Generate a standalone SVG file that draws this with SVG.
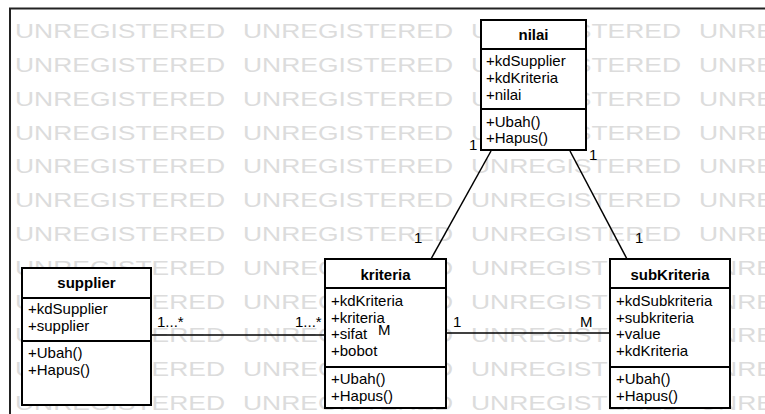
<svg xmlns="http://www.w3.org/2000/svg" width="765" height="414" viewBox="0 0 765 414">
<style>
.wm{font-family:"Liberation Sans",Arial,sans-serif;font-size:19.5px;fill:#dcdcdc}
.box{fill:#fff;stroke:#000;stroke-width:2}
.sep{stroke:#000;stroke-width:2}
.t{font-family:"Liberation Sans",Arial,sans-serif;font-size:15px;fill:#000}
.b{font-weight:bold;text-anchor:middle}
.ln{stroke:#000;stroke-width:1.5;fill:none}
</style>
<rect x="0" y="0" width="765" height="414" fill="#fff"/>
<g id="watermark">
<text class="wm" x="15" y="38" textLength="210" lengthAdjust="spacingAndGlyphs">UNREGISTERED</text><text class="wm" x="243" y="38" textLength="210" lengthAdjust="spacingAndGlyphs">UNREGISTERED</text><text class="wm" x="471" y="38" textLength="210" lengthAdjust="spacingAndGlyphs">UNREGISTERED</text><text class="wm" x="699" y="38" textLength="210" lengthAdjust="spacingAndGlyphs">UNREGISTERED</text>
<text class="wm" x="15" y="72" textLength="210" lengthAdjust="spacingAndGlyphs">UNREGISTERED</text><text class="wm" x="243" y="72" textLength="210" lengthAdjust="spacingAndGlyphs">UNREGISTERED</text><text class="wm" x="471" y="72" textLength="210" lengthAdjust="spacingAndGlyphs">UNREGISTERED</text><text class="wm" x="699" y="72" textLength="210" lengthAdjust="spacingAndGlyphs">UNREGISTERED</text>
<text class="wm" x="15" y="106" textLength="210" lengthAdjust="spacingAndGlyphs">UNREGISTERED</text><text class="wm" x="243" y="106" textLength="210" lengthAdjust="spacingAndGlyphs">UNREGISTERED</text><text class="wm" x="471" y="106" textLength="210" lengthAdjust="spacingAndGlyphs">UNREGISTERED</text><text class="wm" x="699" y="106" textLength="210" lengthAdjust="spacingAndGlyphs">UNREGISTERED</text>
<text class="wm" x="15" y="140" textLength="210" lengthAdjust="spacingAndGlyphs">UNREGISTERED</text><text class="wm" x="243" y="140" textLength="210" lengthAdjust="spacingAndGlyphs">UNREGISTERED</text><text class="wm" x="471" y="140" textLength="210" lengthAdjust="spacingAndGlyphs">UNREGISTERED</text><text class="wm" x="699" y="140" textLength="210" lengthAdjust="spacingAndGlyphs">UNREGISTERED</text>
<text class="wm" x="15" y="173" textLength="210" lengthAdjust="spacingAndGlyphs">UNREGISTERED</text><text class="wm" x="243" y="173" textLength="210" lengthAdjust="spacingAndGlyphs">UNREGISTERED</text><text class="wm" x="471" y="173" textLength="210" lengthAdjust="spacingAndGlyphs">UNREGISTERED</text><text class="wm" x="699" y="173" textLength="210" lengthAdjust="spacingAndGlyphs">UNREGISTERED</text>
<text class="wm" x="15" y="207" textLength="210" lengthAdjust="spacingAndGlyphs">UNREGISTERED</text><text class="wm" x="243" y="207" textLength="210" lengthAdjust="spacingAndGlyphs">UNREGISTERED</text><text class="wm" x="471" y="207" textLength="210" lengthAdjust="spacingAndGlyphs">UNREGISTERED</text><text class="wm" x="699" y="207" textLength="210" lengthAdjust="spacingAndGlyphs">UNREGISTERED</text>
<text class="wm" x="15" y="241" textLength="210" lengthAdjust="spacingAndGlyphs">UNREGISTERED</text><text class="wm" x="243" y="241" textLength="210" lengthAdjust="spacingAndGlyphs">UNREGISTERED</text><text class="wm" x="471" y="241" textLength="210" lengthAdjust="spacingAndGlyphs">UNREGISTERED</text><text class="wm" x="699" y="241" textLength="210" lengthAdjust="spacingAndGlyphs">UNREGISTERED</text>
<text class="wm" x="15" y="275" textLength="210" lengthAdjust="spacingAndGlyphs">UNREGISTERED</text><text class="wm" x="243" y="275" textLength="210" lengthAdjust="spacingAndGlyphs">UNREGISTERED</text><text class="wm" x="471" y="275" textLength="210" lengthAdjust="spacingAndGlyphs">UNREGISTERED</text><text class="wm" x="699" y="275" textLength="210" lengthAdjust="spacingAndGlyphs">UNREGISTERED</text>
<text class="wm" x="15" y="309" textLength="210" lengthAdjust="spacingAndGlyphs">UNREGISTERED</text><text class="wm" x="243" y="309" textLength="210" lengthAdjust="spacingAndGlyphs">UNREGISTERED</text><text class="wm" x="471" y="309" textLength="210" lengthAdjust="spacingAndGlyphs">UNREGISTERED</text><text class="wm" x="699" y="309" textLength="210" lengthAdjust="spacingAndGlyphs">UNREGISTERED</text>
<text class="wm" x="15" y="342" textLength="210" lengthAdjust="spacingAndGlyphs">UNREGISTERED</text><text class="wm" x="243" y="342" textLength="210" lengthAdjust="spacingAndGlyphs">UNREGISTERED</text><text class="wm" x="471" y="342" textLength="210" lengthAdjust="spacingAndGlyphs">UNREGISTERED</text><text class="wm" x="699" y="342" textLength="210" lengthAdjust="spacingAndGlyphs">UNREGISTERED</text>
<text class="wm" x="15" y="376" textLength="210" lengthAdjust="spacingAndGlyphs">UNREGISTERED</text><text class="wm" x="243" y="376" textLength="210" lengthAdjust="spacingAndGlyphs">UNREGISTERED</text><text class="wm" x="471" y="376" textLength="210" lengthAdjust="spacingAndGlyphs">UNREGISTERED</text><text class="wm" x="699" y="376" textLength="210" lengthAdjust="spacingAndGlyphs">UNREGISTERED</text>
<text class="wm" x="15" y="410" textLength="210" lengthAdjust="spacingAndGlyphs">UNREGISTERED</text><text class="wm" x="243" y="410" textLength="210" lengthAdjust="spacingAndGlyphs">UNREGISTERED</text><text class="wm" x="471" y="410" textLength="210" lengthAdjust="spacingAndGlyphs">UNREGISTERED</text><text class="wm" x="699" y="410" textLength="210" lengthAdjust="spacingAndGlyphs">UNREGISTERED</text>
</g>
<path d="M10 414 V8.5 H765" fill="none" stroke="#222" stroke-width="2"/>
<g id="connectors">
<line class="ln" x1="491" y1="151" x2="431" y2="259"/>
<line class="ln" x1="570" y1="151" x2="627" y2="259"/>
<line class="ln" x1="151" y1="335" x2="325" y2="335"/>
<line class="ln" x1="446" y1="333" x2="610" y2="333"/>
<text class="t" x="469" y="150">1</text>
<text class="t" x="589" y="160">1</text>
<text class="t" x="414" y="243">1</text>
<text class="t" x="635" y="243">1</text>
<text class="t" x="157" y="327">1...*</text>
<text class="t" x="295" y="327">1...*</text>
<text class="t" x="453" y="327">1</text>
<text class="t" x="580" y="327">M</text>
</g>
<g id="nilai">
<rect class="box" x="481" y="20" width="105" height="130"/>
<line class="sep" x1="481" y1="49" x2="586" y2="49"/>
<line class="sep" x1="481" y1="109" x2="586" y2="109"/>
<text class="t b" x="533.5" y="40">nilai</text>
<text class="t" x="486" y="66">+kdSupplier</text>
<text class="t" x="486" y="83">+kdKriteria</text>
<text class="t" x="486" y="100">+nilai</text>
<text class="t" x="486" y="127">+Ubah()</text>
<text class="t" x="486" y="143">+Hapus()</text>
</g>
<g id="supplier">
<rect class="box" x="22" y="268" width="129" height="137"/>
<line class="sep" x1="22" y1="298" x2="151" y2="298"/>
<line class="sep" x1="22" y1="341" x2="151" y2="341"/>
<text class="t b" x="86.5" y="288">supplier</text>
<text class="t" x="28" y="314">+kdSupplier</text>
<text class="t" x="28" y="331">+supplier</text>
<text class="t" x="28" y="358">+Ubah()</text>
<text class="t" x="28" y="375">+Hapus()</text>
</g>
<g id="kriteria">
<rect class="box" x="325" y="259" width="121" height="149"/>
<line class="sep" x1="325" y1="288" x2="446" y2="288"/>
<line class="sep" x1="325" y1="367" x2="446" y2="367"/>
<text class="t b" x="385.5" y="280">kriteria</text>
<text class="t" x="331" y="306">+kdKriteria</text>
<text class="t" x="331" y="322.5">+kriteria</text>
<text class="t" x="331" y="339">+sifat</text>
<text class="t" x="331" y="355.5">+bobot</text>
<text class="t" x="331" y="384">+Ubah()</text>
<text class="t" x="331" y="401">+Hapus()</text>
<text class="t" x="378" y="335">M</text>
</g>
<g id="subKriteria">
<rect class="box" x="610" y="259" width="120" height="149"/>
<line class="sep" x1="610" y1="288" x2="730" y2="288"/>
<line class="sep" x1="610" y1="367" x2="730" y2="367"/>
<text class="t b" x="670" y="280">subKriteria</text>
<text class="t" x="616" y="306">+kdSubkriteria</text>
<text class="t" x="616" y="322.5">+subkriteria</text>
<text class="t" x="616" y="339">+value</text>
<text class="t" x="616" y="355.5">+kdKriteria</text>
<text class="t" x="616" y="384">+Ubah()</text>
<text class="t" x="616" y="401">+Hapus()</text>
</g>
</svg>
